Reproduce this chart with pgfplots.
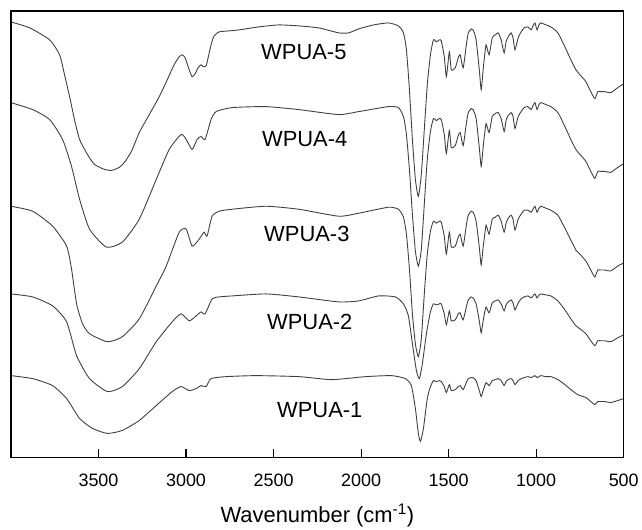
\documentclass[border=0pt]{standalone}
\usepackage{pgfplots}
\pgfplotsset{compat=1.18}
\usepackage{fontspec}
\setmainfont{Liberation Sans}
\definecolor{curve}{HTML}{404040}

\pgfplotstableread{
x y
4000 22
3893 28
3779 40
3722 55
3694 75
3665 97
3637 120
3608 140
3563 155
3523 165
3466 170
3426 171
3381 168
3352 163
3312 152
3267 133
3210 115
3153 97
3107 80
3068 65
3039 57
3022 55
3005 58
2982 70
2965 77
2948 74
2931 68
2914 65
2902 67
2885 66
2874 58
2857 45
2840 36
2811 32
2754 31
2697 30
2584 27
2470 25
2356 26
2242 28
2128 33
2071 33
2014 29
1929 25
1844 23
1787 26
1758 33
1741 50
1724 90
1707 140
1690 180
1673 197
1656 175
1639 130
1622 85
1604 55
1587 40
1570 42
1553 40
1542 41
1525 57
1513 77
1496 52
1485 70
1462 68
1445 58
1434 55
1417 68
1399 45
1388 33
1371 29
1360 30
1343 40
1325 70
1314 90
1303 70
1297 60
1286 45
1269 55
1251 38
1234 35
1217 33
1200 40
1183 53
1172 42
1160 37
1143 33
1132 38
1121 50
1103 38
1086 32
1069 28
1047 27
1029 30
1018 26
1007 23
995 30
984 25
973 23
944 25
916 27
876 33
836 47
802 60
773 70
750 75
716 82
688 92
665 99
648 92
631 92
608 92
574 93
534 88
500 84
}\wpuafive

\pgfplotstableread{
x y
4000 103
3876 110
3779 120
3705 140
3654 167
3608 200
3551 230
3455 248
3364 243
3267 220
3170 180
3096 150
3028 135
2999 140
2965 150
2937 140
2914 137
2891 140
2857 120
2828 112
2737 108
2544 107
2356 110
2128 115
2014 112
1844 107
1787 108
1758 117
1741 135
1724 170
1707 215
1690 252
1673 267
1656 250
1639 205
1622 160
1604 132
1587 119
1570 121
1553 119
1542 120
1525 135
1513 154
1496 131
1485 148
1462 146
1445 136
1434 133
1417 146
1399 124
1388 113
1371 109
1360 110
1343 119
1325 148
1314 167
1303 148
1297 138
1286 124
1269 133
1251 117
1234 114
1217 113
1200 119
1183 132
1172 121
1160 116
1143 113
1132 117
1121 129
1103 117
1086 112
1069 108
1047 107
1029 110
1018 106
1007 103
995 110
984 105
973 103
944 105
916 107
876 113
836 127
802 140
773 150
750 155
716 162
688 172
665 179
648 172
631 172
608 172
574 173
534 168
500 164
}\wpuafour

\pgfplotstableread{
x y
4000 207
3876 212
3762 227
3682 247
3654 270
3625 305
3591 325
3551 335
3449 343
3364 338
3267 320
3170 287
3113 267
3039 233
2999 230
2965 247
2925 240
2897 233
2880 237
2851 217
2811 212
2737 210
2544 207
2356 210
2128 217
2014 214
1844 208
1787 210
1758 218
1741 235
1724 270
1707 315
1690 345
1673 358
1656 340
1639 295
1622 255
1604 232
1587 222
1570 224
1553 222
1542 223
1525 237
1513 255
1496 233
1485 248
1462 247
1445 238
1434 235
1417 247
1399 226
1388 216
1371 212
1360 213
1343 222
1325 248
1314 266
1303 248
1297 240
1286 226
1269 235
1251 220
1234 218
1217 216
1200 222
1183 233
1172 224
1160 219
1143 216
1132 220
1121 231
1103 220
1086 215
1069 211
1047 211
1029 213
1018 210
1007 207
995 213
984 209
973 207
944 209
916 211
876 216
836 229
802 241
773 251
750 255
716 262
688 271
665 278
648 271
631 271
608 271
574 272
534 267
500 264
}\wpuathree

\pgfplotstableread{
x y
4000 295
3876 298
3762 307
3682 323
3625 357
3551 380
3449 393
3364 388
3267 370
3170 343
3079 323
3028 315
2982 322
2942 317
2914 313
2891 315
2851 300
2811 298
2737 297
2544 295
2356 298
2128 303
2014 302
1900 297
1804 298
1758 305
1730 317
1707 345
1684 372
1667 380
1650 365
1627 335
1604 313
1587 305
1570 306
1553 305
1542 305
1525 315
1513 326
1496 312
1485 322
1462 321
1445 315
1434 314
1417 321
1399 308
1388 301
1371 298
1360 299
1343 305
1325 322
1314 334
1303 322
1297 316
1286 308
1269 314
1251 304
1234 302
1217 301
1200 305
1183 312
1172 306
1160 303
1143 301
1132 304
1121 311
1103 304
1086 300
1069 298
1047 297
1029 299
1018 297
1007 295
995 299
984 296
973 295
944 296
916 297
876 302
836 311
802 320
773 327
750 330
716 335
688 342
665 347
648 342
631 342
608 342
574 343
534 339
500 336
}\wpuatwo

\pgfplotstableread{
x y
4000 377
3876 380
3762 387
3682 400
3608 420
3534 430
3449 435
3364 432
3267 422
3170 407
3079 393
3028 388
2982 392
2942 390
2914 387
2885 388
2857 380
2771 378
2601 377
2356 378
2168 381
1974 378
1826 377
1747 380
1713 387
1690 410
1673 435
1661 443
1644 430
1622 400
1604 388
1587 382
1570 383
1553 382
1542 383
1525 388
1513 394
1496 386
1485 392
1462 391
1445 388
1434 387
1417 391
1399 384
1388 380
1371 379
1360 379
1343 382
1325 392
1314 398
1303 392
1297 389
1286 384
1269 387
1251 382
1234 381
1217 380
1200 382
1183 387
1172 383
1160 381
1143 380
1132 382
1121 386
1103 382
1086 380
1069 379
1047 378
1029 379
1018 378
1007 377
995 379
984 378
973 377
944 378
916 378
876 381
836 386
802 391
773 395
750 397
716 399
688 403
665 406
648 403
631 403
608 403
574 404
534 402
500 400
}\wpuaone

\begin{document}
\begin{tikzpicture}
\begin{axis}[
  scale only axis,
  width=615pt, height=448pt,
  x dir=reverse, y dir=reverse,
  xmin=500, xmax=4000, ymin=11, ymax=459,
  xtick={500,1000,1500,2000,2500,3000,3500},
  ytick=\empty,
  xtick pos=bottom,
  tick align=inside,
  major tick length=8pt,
  tick style={line width=1.1pt, black},
  axis line style={line width=1.3pt, black},
  /pgf/number format/assume math mode=true,
  /pgf/number format/1000 sep={},
  xticklabel style={font=\fontsize{18}{18}\selectfont, yshift=-13pt},
  xlabel={Wavenumber (cm\textsuperscript{-1})},
  xlabel style={font=\fontsize{22}{22}\selectfont, at={(axis description cs:0.5,0)}, anchor=base, yshift=-65pt},
  clip=false,
]
\addplot[curve, line width=0.9pt, smooth, tension=0.35] table[x=x,y=y] {\wpuafive};
\addplot[curve, line width=0.9pt, smooth, tension=0.35] table[x=x,y=y] {\wpuafour};
\addplot[curve, line width=0.9pt, smooth, tension=0.35] table[x=x,y=y] {\wpuathree};
\addplot[curve, line width=0.9pt, smooth, tension=0.35] table[x=x,y=y] {\wpuatwo};
\addplot[curve, line width=0.9pt, smooth, tension=0.35] table[x=x,y=y] {\wpuaone};
\node[font=\fontsize{22}{22}\selectfont] at (axis cs:2327,52) {WPUA-5};
\node[font=\fontsize{22}{22}\selectfont] at (axis cs:2322,140) {WPUA-4};
\node[font=\fontsize{22}{22}\selectfont] at (axis cs:2310,235) {WPUA-3};
\node[font=\fontsize{22}{22}\selectfont] at (axis cs:2293,323) {WPUA-2};
\node[font=\fontsize{22}{22}\selectfont] at (axis cs:2236,412) {WPUA-1};
\coordinate (TL) at (axis cs:4000,11);
\coordinate (BR) at (axis cs:500,459);
\end{axis}
\draw[line width=1.3pt, black] (TL) rectangle (BR);
\path ([xshift=-11pt,yshift=11pt]TL) rectangle ([xshift=16pt,yshift=-67pt]BR);
\end{tikzpicture}
\end{document}
